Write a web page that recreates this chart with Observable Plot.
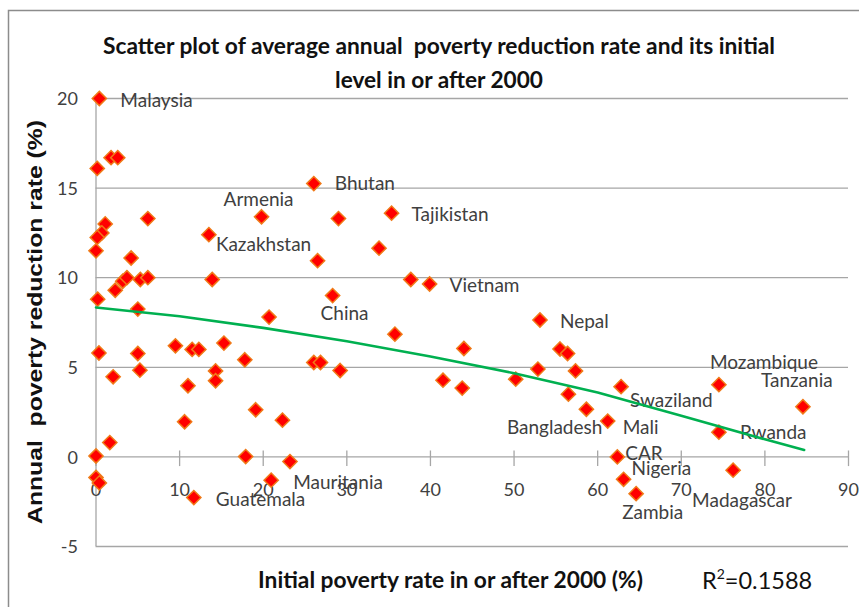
<!DOCTYPE html>
<html>
<head>
<meta charset="utf-8">
<script src="https://cdn.jsdelivr.net/npm/d3@7"></script>
<script src="https://cdn.jsdelivr.net/npm/@observablehq/plot@0.6"></script>
<style>
  body { margin: 0; background: #fff; }
  #chart svg { display: block; }
</style>
</head>
<body>
<div id="chart"></div>
<script>
// ---- data ----
const countries = [
  "Malaysia","","","","","","","","","",
  "Kazakhstan","","","","","","","","","",
  "","","","","","","","","","",
  "","","","","","","","","Guatemala","Mauritania",
  "","","","Armenia","Bhutan","","Tajikistan","","","",
  "Vietnam","China","","","","","Nepal","","","",
  "","","","","","","Bangladesh","Mali","Swaziland","Mozambique",
  "Tanzania","Rwanda","CAR","Nigeria","Zambia","Madagascar"
];
const initialPoverty = [
  0.4, 0.15, 1.8, 2.6, 6.2, 1.1, 0.7, 0.15, 0.0, 4.2,
  13.5, 2.3, 3.2, 3.7, 5.3, 6.2, 13.9, 0.2, 5.0, 0.35,
  5.0, 5.25, 2.05, 9.5, 11.5, 12.3, 15.3, 17.8, 14.3, 14.3,
  11.0, 19.1, 10.6, 1.65, 0.0, 17.9, 0.0, 0.4, 11.7, 20.95,
  23.2, 22.3, 20.7, 19.8, 26.05, 29.0, 35.35, 33.85, 26.5, 37.65,
  39.9, 28.3, 35.75, 26.05, 26.85, 29.2, 53.1, 44.0, 41.5, 43.8,
  50.2, 52.85, 55.5, 56.4, 57.35, 56.5, 58.65, 61.2, 62.8, 74.5,
  84.55, 74.5, 62.35, 63.1, 64.6, 76.2
];
const reductionRate = [
  20.0, 16.1, 16.7, 16.7, 13.3, 13.0, 12.5, 12.25, 11.5, 11.1,
  12.4, 9.3, 9.8, 10.0, 9.9, 10.0, 9.9, 8.8, 8.25, 5.8,
  5.77, 4.84, 4.47, 6.2, 6.0, 6.0, 6.35, 5.42, 4.8, 4.25,
  3.97, 2.63, 1.96, 0.8, 0.05, 0.02, -1.15, -1.45, -2.27, -1.3,
  -0.26, 2.05, 7.8, 13.4, 15.25, 13.3, 13.6, 11.65, 10.95, 9.9,
  9.65, 9.0, 6.85, 5.27, 5.27, 4.82, 7.64, 6.05, 4.28, 3.84,
  4.34, 4.9, 6.02, 5.77, 4.8, 3.5, 2.66, 2.0, 3.92, 4.03,
  2.8, 1.38, 0.0, -1.25, -2.05, -0.74
];
// trend line
const trendX = [0, 10, 20, 30, 40, 50, 60, 70, 80, 84.7];
const trendY = [8.34, 7.85, 7.2, 6.45, 5.6, 4.67, 3.59, 2.3, 0.98, 0.39];
const xTicks = [0, 10, 20, 30, 40, 50, 60, 70, 80, 90];
const yTicks = [-5, 0, 5, 10, 15, 20];
const titleLines = ["Scatter plot of average annual  poverty reduction rate and its initial", "level in or after 2000"];
const xTitle = "Initial poverty rate in or after 2000 (%)";
const yTitle = "Annual  poverty reduction rate (%)";
const rSquared = "0.1588";

// ---- label placement (style, not data) ----
const labelLayout = {
  Malaysia: ["start", 21, 2], Kazakhstan: ["start", 7, 10], Guatemala: ["start", 22, 2],
  Mauritania: ["start", 22, 3], Armenia: ["start", -38, -17], Bhutan: ["start", 21, 0],
  Tajikistan: ["start", 20, 2], Vietnam: ["start", 20, 2], China: ["start", -12, 18],
  Nepal: ["start", 20, 2], Bangladesh: ["end", 16, 19], Mali: ["start", 15, 7],
  Swaziland: ["start", 9, 14], Mozambique: ["start", -9, -22], Tanzania: ["start", -42, -26],
  Rwanda: ["start", 21, 1], CAR: ["start", 8, -3], Nigeria: ["start", 8, -10],
  Zambia: ["start", -14, 19], Madagascar: ["start", -41, 31]
};

const points = initialPoverty.map((x, i) => ({name: countries[i], x, y: reductionRate[i]}));
const trend = trendX.map((x, i) => ({x, y: trendY[i]}));
const labelled = points.filter(d => d.name);

const gridColor = "#a6a6a6";
const textColor = "#404040";

const labelMarks = labelled.map(d => {
  const [anchor, dx, dy] = labelLayout[d.name];
  return Plot.text([d], {x: "x", y: "y", text: "name", textAnchor: anchor, dx, dy,
    fill: textColor, fontSize: 19});
});

const chart = Plot.plot({
  width: 859,
  height: 607,
  marginLeft: 95.5,
  marginRight: 11,
  marginTop: 98,
  marginBottom: 61,
  style: {fontFamily: "Lato, 'Open Sans', sans-serif", background: "#fff"},
  x: {domain: [0, 90], axis: null},
  y: {domain: [-5, 20], axis: null},
  marks: [
    Plot.ruleY(yTicks, {y: d => d, stroke: gridColor, strokeWidth: 1.3}),
    Plot.ruleX([0], {x: d => d, stroke: gridColor, strokeWidth: 1.3}),
    Plot.ruleX(xTicks, {x: d => d, y1: 0.33, y2: -0.54, stroke: gridColor, strokeWidth: 1.3}),
    Plot.text(xTicks, {x: d => d, y: 0, dy: 33, text: d => String(d), fill: textColor, fontSize: 18}),
    Plot.text(yTicks, {x: 0, y: d => d, dx: -18, dy: 1, textAnchor: "end", text: d => String(d), fill: textColor, fontSize: 18}),
    ...labelMarks,
    Plot.dot(points, {x: "x", y: "y", symbol: "diamond2", r: 6.4, fill: "#ff0000", stroke: "#f07a18", strokeWidth: 1.5}),
    Plot.line(trend, {x: "x", y: "y", stroke: "#00b050", strokeWidth: 2.6})
  ]
});

document.getElementById("chart").appendChild(chart);

// ---- titles, frame, R² annotation ----
const svg = d3.select(chart);
svg.append("path")
  .attr("d", "M8.5,620 V10.5 H870")
  .attr("fill", "none")
  .attr("stroke", "#8c8c8c")
  .attr("stroke-width", 1.5);

svg.append("text")
  .attr("x", 439).attr("y", 54)
  .attr("text-anchor", "middle")
  .attr("font-family", "Lato, sans-serif").attr("font-weight", "bold").attr("font-size", 22)
  .attr("fill", "#111")
  .attr("textLength", 672).attr("lengthAdjust", "spacingAndGlyphs")
  .text(titleLines[0]);
svg.append("text")
  .attr("x", 439).attr("y", 88)
  .attr("text-anchor", "middle")
  .attr("font-family", "Lato, sans-serif").attr("font-weight", "bold").attr("font-size", 22)
  .attr("fill", "#111")
  .attr("textLength", 208).attr("lengthAdjust", "spacingAndGlyphs")
  .text(titleLines[1]);

svg.append("text")
  .attr("x", 450.5).attr("y", 588)
  .attr("text-anchor", "middle")
  .attr("font-family", "Lato, sans-serif").attr("font-weight", "bold").attr("font-size", 22)
  .attr("fill", "#111")
  .attr("textLength", 385).attr("lengthAdjust", "spacingAndGlyphs")
  .text(xTitle);

svg.append("text")
  .attr("transform", "translate(42,322) rotate(-90)")
  .attr("text-anchor", "middle")
  .attr("font-family", "'Liberation Sans', Arial, sans-serif").attr("font-weight", "bold").attr("font-size", 21)
  .attr("fill", "#111")
  .attr("textLength", 404).attr("lengthAdjust", "spacingAndGlyphs")
  .text(yTitle);

const r2 = svg.append("text")
  .attr("x", 702).attr("y", 589)
  .attr("text-anchor", "start")
  .attr("font-family", "Lato, sans-serif").attr("font-size", 23.5)
  .attr("fill", "#111");
r2.append("tspan").text("R");
r2.append("tspan").attr("font-size", 14).attr("dy", -10).text("2");
r2.append("tspan").attr("dy", 10).text("=" + rSquared);
</script>
</body>
</html>
